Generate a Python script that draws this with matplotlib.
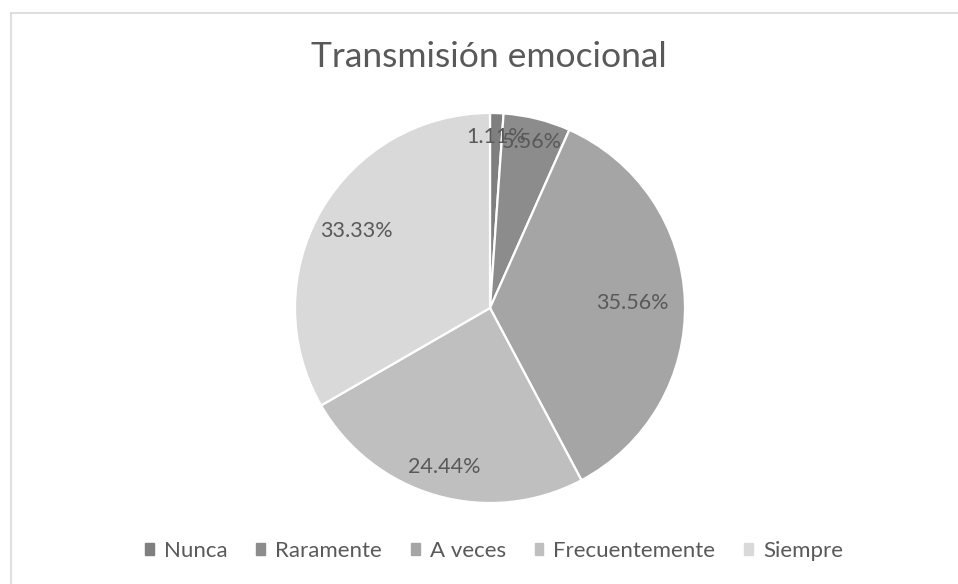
import numpy as np
import matplotlib
matplotlib.use("Agg")
import matplotlib.pyplot as plt
from matplotlib.patches import Rectangle
from matplotlib.lines import Line2D

labels = ["Nunca", "Raramente", "A veces", "Frecuentemente", "Siempre"]
values = [1.11, 5.56, 35.56, 24.44, 33.33]
colours = ["#7f7f7f", "#8c8c8c", "#a5a5a5", "#bfbfbf", "#d9d9d9"]
title = "Transmisión emocional"

# radial position of each percentage label (fraction of radius)
label_dist = [0.88, 0.88, 0.73, 0.85, 0.79]

TEXT = "#595959"
plt.rcParams["font.family"] = ["Lato", "DejaVu Sans"]

W, H = 958, 584
fig = plt.figure(figsize=(W / 100, H / 100), dpi=100)

# chart-area border (only left and top edges are in frame)
fig.add_artist(Line2D([10.5 / W, 10.5 / W], [0, 1 - 12.5 / H],
                      transform=fig.transFigure, color="#d9d9d9", lw=1.2))
fig.add_artist(Line2D([10.5 / W, 1], [1 - 12.5 / H, 1 - 12.5 / H],
                      transform=fig.transFigure, color="#d9d9d9", lw=1.2))

cx, cy, r = 490, 308, 195
ax = fig.add_axes([(cx - r) / W, (H - cy - r) / H, 2 * r / W, 2 * r / H])
wedges, _ = ax.pie(values, colors=colours, startangle=90, counterclock=False,
                   radius=1, wedgeprops=dict(edgecolor="white", linewidth=1.6))
ax.set_xlim(-1, 1)
ax.set_ylim(-1, 1)
ax.set_aspect("equal")
ax.axis("off")

for w, v, d in zip(wedges, values, label_dist):
    ang = np.deg2rad((w.theta1 + w.theta2) / 2)
    ax.text(d * np.cos(ang), d * np.sin(ang), f"{v:.2f}%",
            ha="center", va="center", fontsize=15.5, color=TEXT)

fig.text(489 / W, 1 - 57 / H, title, ha="center", va="center",
         fontsize=25.5, color=TEXT)

handles = [Rectangle((0, 0), 1, 1, color=c) for c in colours]
fig.legend(handles, labels, loc="center", bbox_to_anchor=(494 / W, 1 - 551 / H),
           ncol=5, frameon=False, fontsize=16, handlelength=0.4,
           handleheight=0.4, handletextpad=0.45, columnspacing=1.3,
           labelcolor=TEXT)

fig.savefig("out.png", dpi=100, facecolor="white")
